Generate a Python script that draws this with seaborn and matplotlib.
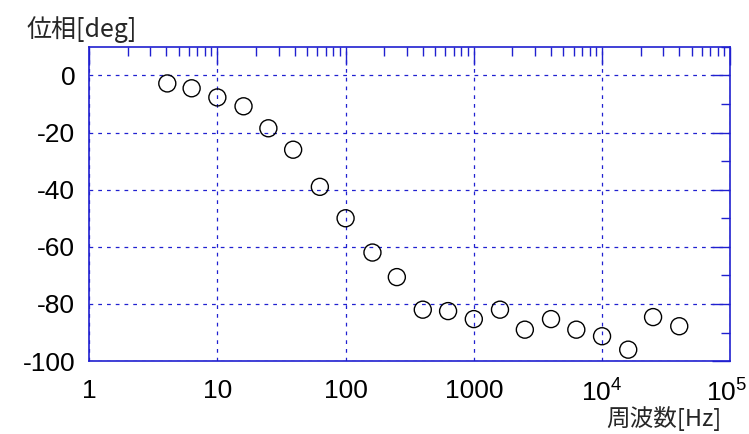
import numpy as np
import pandas as pd
import seaborn as sns
import matplotlib.pyplot as plt
import matplotlib.transforms as mtransforms
from matplotlib.ticker import LogLocator, FixedLocator, FixedFormatter, MultipleLocator

# 周波数と位相のデータ
freq = [4.07, 6.3, 10, 16, 25, 39, 63, 100, 162, 251, 400, 630,
        1000, 1600, 2500, 4000, 6300, 10000, 16000, 25000, 40000]
phase = [-2.8, -4.5, -7.7, -10.8, -18.5, -26, -39, -50, -62, -70.6, -82, -82.5,
         -85.3, -82, -89, -85.3, -89, -91.3, -96, -84.6, -87.8]

xticks = [1, 10, 100, 1000, 1e4, 1e5]
xticklabels = ['1', '10', '100', '1000', r'$10^4$', r'$10^5$']
yticks = [0, -20, -40, -60, -80, -100]

sns.set_style('white')
plt.rcParams['font.family'] = ['Liberation Sans', 'Noto Sans CJK JP', 'DejaVu Sans']
plt.rcParams['axes.unicode_minus'] = False
plt.rcParams['mathtext.fontset'] = 'custom'
plt.rcParams['mathtext.rm'] = 'Liberation Sans'
plt.rcParams['mathtext.it'] = 'Liberation Sans'

df = pd.DataFrame({'freq': freq, 'phase': phase})

fig = plt.figure(figsize=(7.49, 4.34), dpi=100)
ax = fig.add_axes([0.119, 0.168, 0.856, 0.724])
sns.scatterplot(data=df, x='freq', y='phase', ax=ax, marker='o', s=150,
                facecolors='none', edgecolors='black', linewidth=1, zorder=3)

ax.set_xscale('log')
ax.set_xlim(1, 1e5)
ax.set_ylim(-100, 10)

blue = '#2020d0'
ax.xaxis.set_major_locator(FixedLocator(xticks))
ax.xaxis.set_major_formatter(FixedFormatter(xticklabels))
ax.xaxis.set_minor_locator(LogLocator(base=10, subs=np.arange(2, 10), numticks=20))
ax.yaxis.set_major_locator(FixedLocator(yticks))
ax.yaxis.set_minor_locator(MultipleLocator(10))

ax.grid(True, which='major', color=blue, linestyle=(0, (3, 4)), linewidth=0.9)
for s in ax.spines.values():
    s.set_color(blue)
    s.set_linewidth(1.2)

ax.tick_params(which='both', direction='in', top=True, right=True, color=blue, width=1,
               labelcolor='black')
ax.tick_params(which='major', length=13, labelsize=19)
ax.tick_params(axis='y', which='major', pad=10)
ax.tick_params(axis='x', which='major', pad=13)
ax.tick_params(which='minor', length=6.5)

# 右端のラベルが切れないように少し左へ
last = ax.get_xticklabels()[-1]
last.set_transform(last.get_transform() + mtransforms.ScaledTranslation(-4 / 100, 0, fig.dpi_scale_trans))

ax.set_xlabel('')
ax.set_ylabel('')
fig.text(0.036, 0.915, '位相[deg]', fontsize=18, family=['Noto Sans CJK JP', 'DejaVu Sans'])
fig.text(0.81, 0.018, '周波数[Hz]', fontsize=17, family=['Noto Sans CJK JP', 'DejaVu Sans'])

plt.savefig('out.png', dpi=100)
